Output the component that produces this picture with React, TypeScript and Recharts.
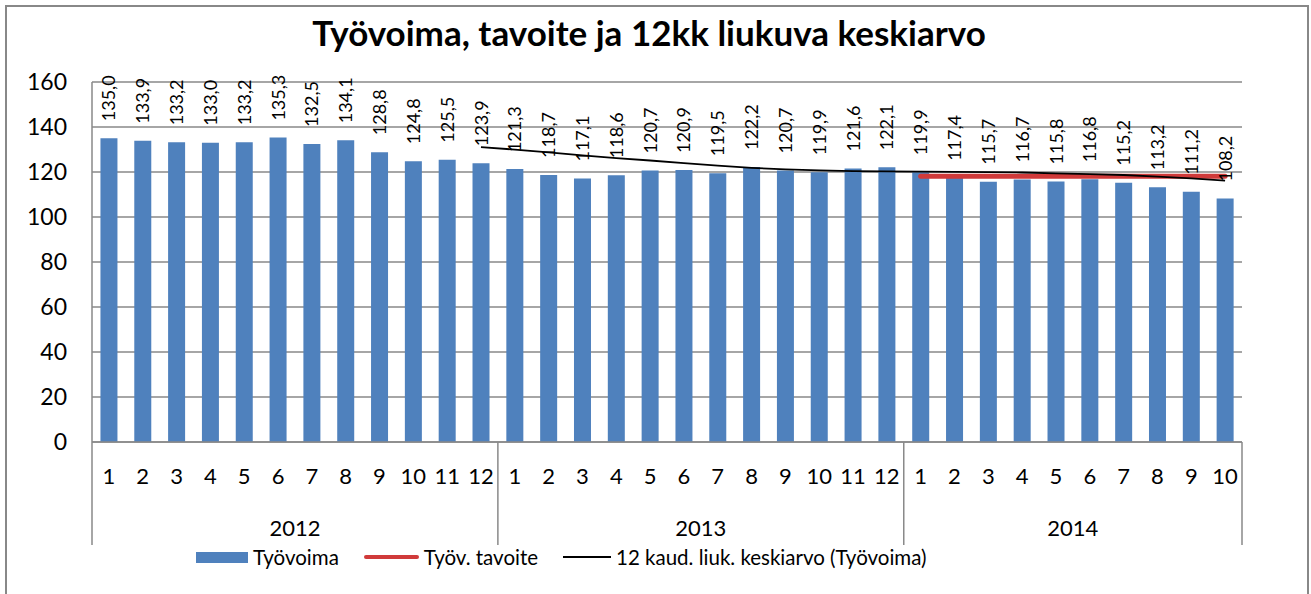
import React from 'react';
import { ComposedChart, Bar, Line, XAxis, YAxis, CartesianGrid, Legend, LabelList } from 'recharts';

const months = ['1','2','3','4','5','6','7','8','9','10','11','12','1','2','3','4','5','6','7','8','9','10','11','12','1','2','3','4','5','6','7','8','9','10'];
const yearOfMonth = ['2012','2012','2012','2012','2012','2012','2012','2012','2012','2012','2012','2012','2013','2013','2013','2013','2013','2013','2013','2013','2013','2013','2013','2013','2014','2014','2014','2014','2014','2014','2014','2014','2014','2014'];

const tyovoima = [135.0,133.9,133.2,133.0,133.2,135.3,132.5,134.1,128.8,124.8,125.5,123.9,121.3,118.7,117.1,118.6,120.7,120.9,119.5,122.2,120.7,119.9,121.6,122.1,119.9,117.4,115.7,116.7,115.8,116.8,115.2,113.2,111.2,108.2];
const tavoite = [null,null,null,null,null,null,null,null,null,null,null,null,null,null,null,null,null,null,null,null,null,null,null,null,118.1,118.1,118.1,118.1,118.1,118.1,118.1,118.1,118.1,118.1];
const liukuva = [null,null,null,null,null,null,null,null,null,null,null,131.10,129.96,128.69,127.35,126.15,125.11,123.91,122.83,121.83,121.16,120.75,120.43,120.28,120.16,120.05,119.93,119.78,119.37,119.03,118.67,117.92,117.13,116.15];

const yTicks = [0,20,40,60,80,100,120,140,160];
const legendOrder = ['tyovoima', 'tavoite', 'liukuva'];

const data = months.map((m, i) => ({
  id: i,
  month: m,
  year: yearOfMonth[i],
  tyovoima: tyovoima[i],
  tavoite: tavoite[i],
  liukuva: liukuva[i],
}));

const W = 1311;
const H = 594;
const M_LEFT = 92;
const M_RIGHT = 69;
const BW = (W - M_LEFT - M_RIGHT) / months.length;
const FONT = 'Lato, "Noto Sans", sans-serif';
const GRID = '#898989';

const fmt = (v: number) => v.toFixed(1).replace('.', ',');

const BarValueLabel = (props: any) => {
  const { x, y, width, value } = props;
  if (value == null) return null;
  const cx = Number(x) + Number(width) / 2;
  const top = Number(y);
  return (
    <text
      transform={`translate(${cx + 6.5},${top - 17}) rotate(-90)`}
      fontFamily={FONT}
      fontSize={18}
      fill="#000"
      textAnchor="start"
    >
      {fmt(Number(value))}
    </text>
  );
};

const MonthTick = (props: any) => {
  const { x, y, index } = props;
  const i = index as number;
  const els: any[] = [];
  els.push(
    <text key="m" x={x} y={y + 42} textAnchor="middle" fontFamily={FONT} fontSize={22} fill="#000">
      {months[i]}
    </text>
  );
  if (i === 0 || yearOfMonth[i] !== yearOfMonth[i - 1]) {
    els.push(<line key="s" x1={x - BW / 2} x2={x - BW / 2} y1={y} y2={y + 103} stroke={GRID} strokeWidth={1.5} />);
  }
  if (i === months.length - 1) {
    els.push(<line key="e" x1={x + BW / 2} x2={x + BW / 2} y1={y} y2={y + 103} stroke={GRID} strokeWidth={1.5} />);
  }
  let s = i;
  while (s > 0 && yearOfMonth[s - 1] === yearOfMonth[i]) s--;
  let n = 0;
  while (s + n < yearOfMonth.length && yearOfMonth[s + n] === yearOfMonth[i]) n++;
  let yx: number | null = null;
  if (n % 2 === 0 && i === s + n / 2 - 1) yx = x + BW / 2;
  if (n % 2 === 1 && i === s + (n - 1) / 2) yx = x;
  if (yx !== null) {
    els.push(
      <text key="y" x={yx} y={y + 94} textAnchor="middle" fontFamily={FONT} fontSize={22} fill="#000">
        {yearOfMonth[i]}
      </text>
    );
  }
  return <g>{els}</g>;
};

const Swatch = ({ kind, color }: { kind: string; color: string }) => {
  if (kind === 'tyovoima') return <span style={{ display: 'inline-block', width: 52, height: 11, background: color }} />;
  if (kind === 'tavoite') return <span style={{ display: 'inline-block', width: 55, height: 4, borderRadius: 2, background: color }} />;
  return <span style={{ display: 'inline-block', width: 48, height: 2, background: color }} />;
};

const renderLegend = (props: any) => {
  const payload = [...(props.payload || [])].sort(
    (a: any, b: any) => legendOrder.indexOf(String(a.dataKey)) - legendOrder.indexOf(String(b.dataKey))
  );
  return (
    <div style={{ display: 'flex', alignItems: 'center', paddingLeft: 196, fontFamily: FONT, fontSize: 20.5, color: '#000', lineHeight: '22px', height: 22 }}>
      {payload.map((entry: any, i: number) => (
        <div key={i} style={{ display: 'flex', alignItems: 'center', marginRight: 25 }}>
          <Swatch kind={String(entry.dataKey)} color={entry.color} />
          <span style={{ marginLeft: 5, whiteSpace: 'nowrap' }}>{entry.value}</span>
        </div>
      ))}
    </div>
  );
};

export default function App() {
  return (
    <div style={{ position: 'absolute', left: 0, top: 0, width: W, height: H, background: '#fff', overflow: 'hidden' }}>
      <div
        style={{
          position: 'absolute',
          left: 5,
          top: 5,
          width: 1304,
          height: 589,
          boxSizing: 'border-box',
          border: '2px solid #888888',
          borderBottom: 'none',
        }}
      />
      <svg width={W} height={60} style={{ position: 'absolute', left: 0, top: 0 }}>
        <text x={649} y={46} textAnchor="middle" fontFamily={FONT} fontWeight="bold" fontSize={35} fill="#000">
          Työvoima, tavoite ja 12kk liukuva keskiarvo
        </text>
      </svg>
      <div style={{ position: 'absolute', left: 0, top: 0 }}>
        <ComposedChart
          width={W}
          height={H}
          data={data}
          margin={{ top: 82, right: M_RIGHT, bottom: 52, left: 0 }}
          barCategoryGap="25%"
        >
          <CartesianGrid horizontal={true} vertical={false} stroke={GRID} strokeWidth={1.5} />
          <XAxis
            dataKey="id"
            type="category"
            height={100}
            interval={0}
            tickLine={false}
            tickSize={0}
            tickMargin={0}
            axisLine={{ stroke: GRID, strokeWidth: 1.5 }}
            tick={<MonthTick />}
          />
          <YAxis
            width={M_LEFT}
            domain={[0, 160]}
            ticks={yTicks}
            interval={0}
            tickLine={false}
            tickSize={0}
            tickMargin={25}
            axisLine={{ stroke: GRID, strokeWidth: 1.5 }}
            tick={{ fontFamily: FONT, fontSize: 23, fill: '#000' }}
          />
          <Bar dataKey="tyovoima" name="Työvoima" fill="#4F81BD" isAnimationActive={false}>
            <LabelList dataKey="tyovoima" content={<BarValueLabel />} />
          </Bar>
          <Line
            dataKey="tavoite"
            name="Työv. tavoite"
            stroke="#D03A3A"
            strokeWidth={5}
            strokeLinecap="round"
            dot={false}
            activeDot={false}
            isAnimationActive={false}
          />
          <Line
            dataKey="liukuva"
            name="12 kaud. liuk. keskiarvo (Työvoima)"
            stroke="#000000"
            strokeWidth={1.8}
            dot={false}
            activeDot={false}
            isAnimationActive={false}
          />
          <Legend
            layout="horizontal"
            verticalAlign="middle"
            align="center"
            wrapperStyle={{ top: 546, left: 0, width: W, height: 22 }}
            content={renderLegend}
          />
        </ComposedChart>
      </div>
    </div>
  );
}
